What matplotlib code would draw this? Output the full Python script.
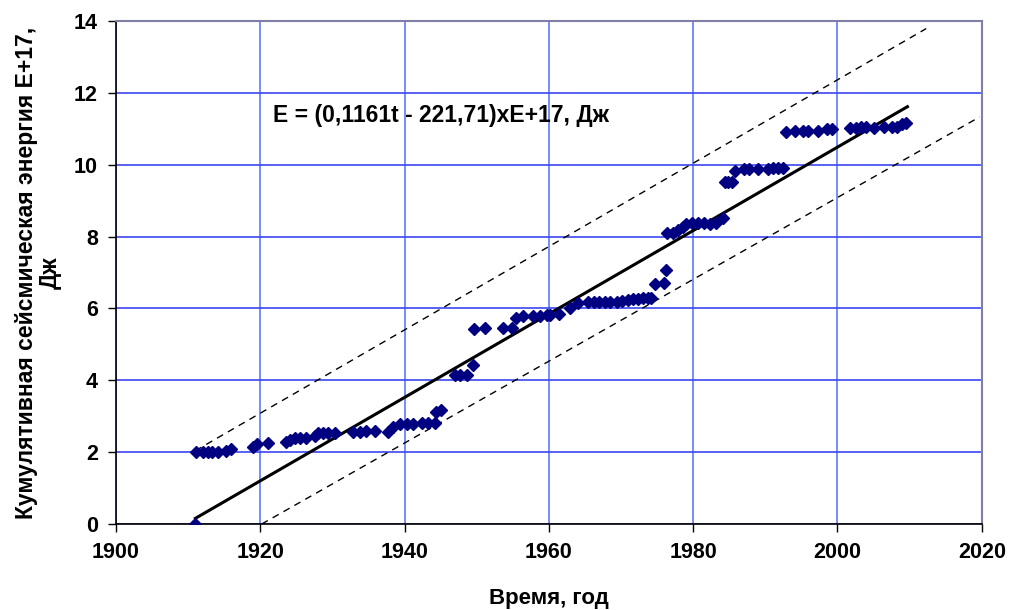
import matplotlib
matplotlib.use("Agg")
import matplotlib.pyplot as plt
import numpy as np

# данные: время (год) и кумулятивная энергия (E+17 Дж)
years = [
    1911.0, 1911.1, 1912.1, 1912.8, 1913.3, 1914.1, 1915.2, 1916.0, 1919.0, 1919.6,
    1921.0, 1923.6, 1924.1, 1924.8, 1925.5, 1926.4, 1927.6, 1928.0, 1928.7, 1929.4,
    1930.3, 1932.9, 1933.8, 1934.7, 1935.9, 1937.7, 1938.4, 1939.4, 1940.3, 1941.2,
    1942.4, 1943.3, 1944.2, 1944.4, 1945.1, 1947.0, 1947.7, 1948.6, 1949.5, 1949.6,
    1951.2, 1953.6, 1954.9, 1955.4, 1956.4, 1957.8, 1958.7, 1959.7, 1960.1, 1961.4,
    1962.9, 1964.0, 1965.4, 1966.2, 1967.0, 1967.8, 1968.5, 1969.4, 1970.2, 1970.9,
    1971.6, 1972.3, 1973.1, 1973.7, 1974.2, 1974.7, 1975.9, 1976.3, 1976.4, 1977.2,
    1977.9, 1978.6, 1979.0, 1979.8, 1980.7, 1981.5, 1982.3, 1983.1, 1984.1, 1984.4,
    1984.8, 1985.4, 1985.8, 1987.1, 1987.8, 1989.0, 1990.4, 1991.1, 1991.8, 1992.5,
    1992.8, 1994.1, 1995.2, 1995.9, 1997.3, 1998.5, 1999.2, 2001.7, 2002.6, 2003.3,
    2004.0, 2005.0, 2006.5, 2007.5, 2008.2, 2008.9, 2009.5,
]
energy = [
    0.00, 2.00, 2.00, 2.00, 2.00, 2.00, 2.02, 2.10, 2.15, 2.22,
    2.26, 2.29, 2.35, 2.40, 2.40, 2.40, 2.44, 2.52, 2.54, 2.54,
    2.54, 2.56, 2.56, 2.58, 2.60, 2.56, 2.70, 2.78, 2.78, 2.79,
    2.81, 2.81, 2.81, 3.12, 3.17, 4.14, 4.14, 4.15, 4.42, 5.42,
    5.45, 5.45, 5.45, 5.74, 5.78, 5.78, 5.80, 5.82, 5.82, 5.85,
    6.02, 6.15, 6.17, 6.17, 6.17, 6.18, 6.18, 6.19, 6.22, 6.24,
    6.26, 6.27, 6.28, 6.28, 6.29, 6.69, 6.70, 7.08, 8.09, 8.11,
    8.17, 8.28, 8.35, 8.37, 8.37, 8.37, 8.35, 8.38, 8.52, 9.51,
    9.51, 9.51, 9.83, 9.87, 9.87, 9.87, 9.88, 9.90, 9.90, 9.92,
    10.90, 10.93, 10.94, 10.94, 10.95, 10.99, 10.99, 11.02, 11.02, 11.04,
    11.04, 11.03, 11.04, 11.04, 11.06, 11.13, 11.15,
]

# линия тренда E = 0,1161t - 221,71
trend_slope = 0.1161
trend_intercept = -221.71
trend_years = [1911.0, 2009.7]

# границы (пунктир), концы
upper_years = [1911.0, 2012.3]
upper_energy = [2.04, 13.79]
lower_years = [1920.2, 2019.7]
lower_energy = [0.0, 11.33]

plt.rcParams["font.family"] = ["Liberation Sans", "DejaVu Sans"]

fig = plt.figure(figsize=(10.09, 6.10), dpi=100)
ax = fig.add_axes([0.115, 0.141, 0.858, 0.8245])

ax.grid(True, axis="y", color="#3c46f0", linewidth=1.2, zorder=0)
ax.grid(True, axis="x", color="#5d7cf6", linewidth=1.2, zorder=0)
ax.set_axisbelow(True)

ax.plot(upper_years, upper_energy, color="black", linestyle=(0, (5, 4)), linewidth=1)
ax.plot(lower_years, lower_energy, color="black", linestyle=(0, (5, 4)), linewidth=1)

ty = np.array(trend_years)
ax.plot(ty, trend_slope * ty + trend_intercept, color="black", linewidth=2.2)

ax.plot(years, energy, linestyle="none", marker="D", markersize=6,
        color="#000080", zorder=3)

ax.text(1921.8, 11.36, "E = (0,1161t - 221,71)xE+17, Дж", fontsize=16.5,
        fontweight="bold", va="center", ha="left")

ax.set_xlim(1900, 2020)
ax.set_ylim(0, 14)
ax.set_xticks(range(1900, 2021, 20))
ax.set_yticks(range(0, 15, 2))
ax.tick_params(axis="both", labelsize=15.5, direction="out", length=6,
               width=1, color="black", pad=7)
for lbl in ax.get_xticklabels() + ax.get_yticklabels():
    lbl.set_fontweight("bold")

for side in ["left", "bottom"]:
    ax.spines[side].set_color("black")
    ax.spines[side].set_linewidth(1.2)
for side in ["top", "right"]:
    ax.spines[side].set_color("#7f80a8")
    ax.spines[side].set_linewidth(1.5)

ax.set_xlabel("Время, год", fontsize=16, fontweight="bold", labelpad=18)
ax.set_ylabel("Кумулятивная сейсмическая энергия Е+17,\nДж", fontsize=16.5,
              fontweight="bold", labelpad=9, linespacing=1.0)

fig.savefig("out.png", dpi=100)
